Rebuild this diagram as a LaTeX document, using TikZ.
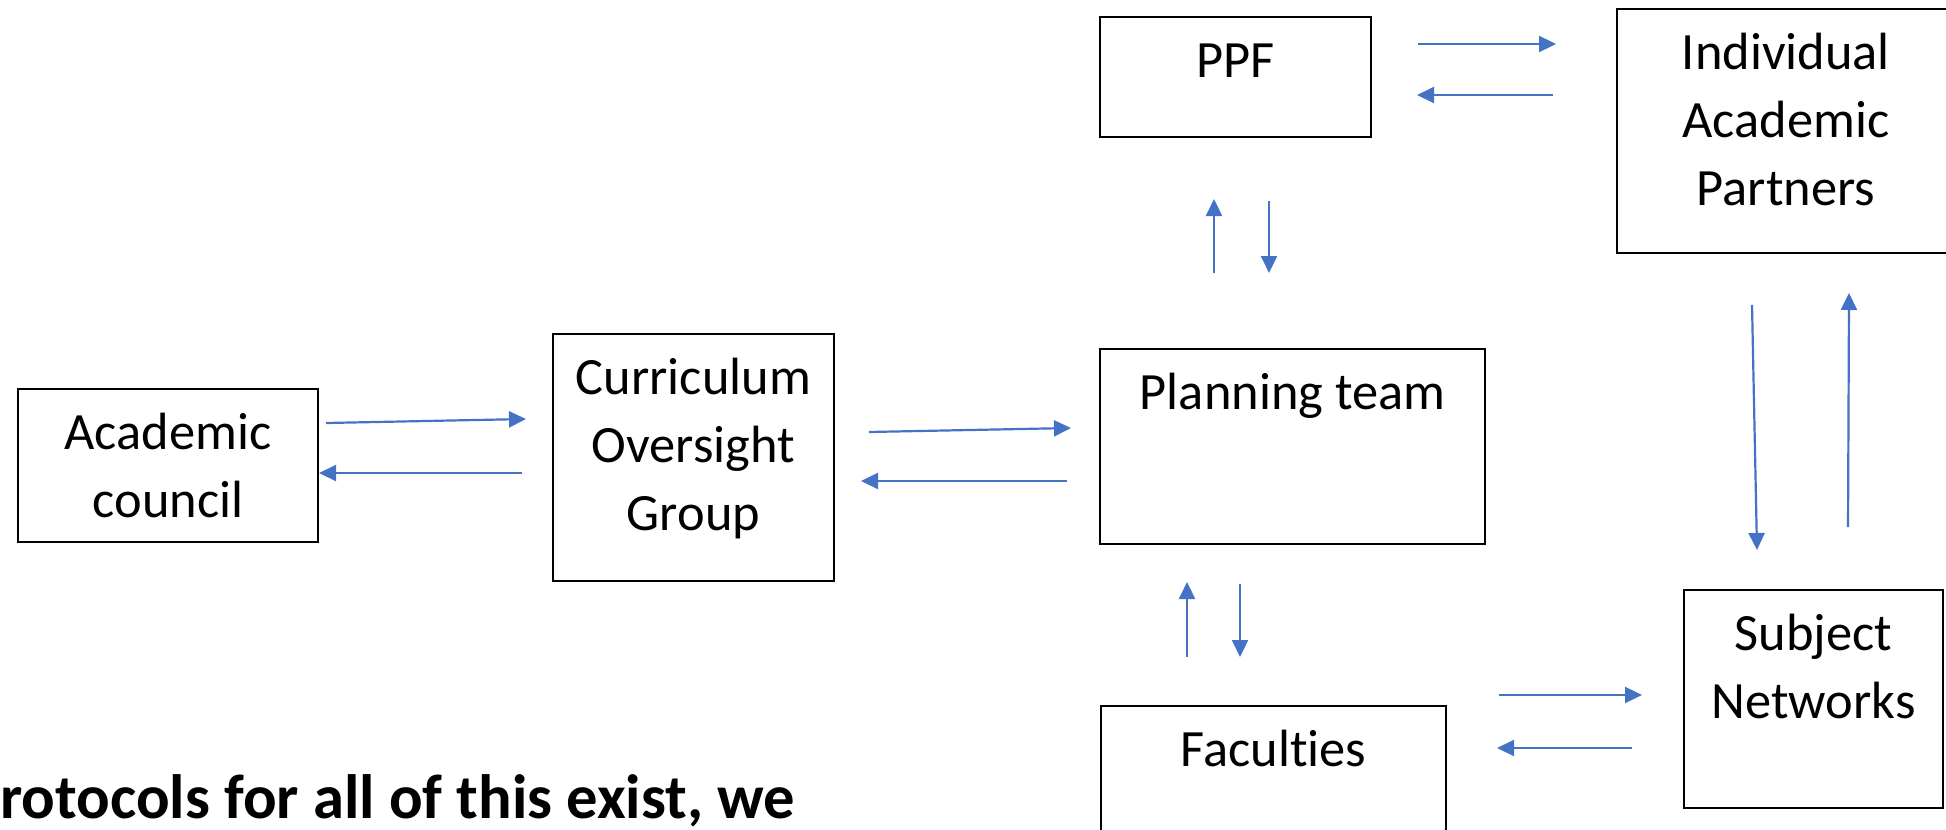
\documentclass[tikz,border=0pt]{standalone}
\usepackage{fontspec}
\setmainfont{Carlito}[Ligatures=NoCommon]
\usetikzlibrary{arrows.meta}
\definecolor{flowblue}{HTML}{4472C4}

\begin{document}
\begin{tikzpicture}[x=0.5pt,y=-0.5pt,
  box/.style={draw, line width=1pt, inner sep=0pt, anchor=north west, align=center,
    text height=30pt, font=\fontsize{26.2pt}{34pt}\selectfont},
  flow/.style={draw=flowblue, line width=1.1pt, -{Triangle[length=8.5pt,width=8pt]}}]
  \useasboundingbox (0,0) rectangle (1946,829);
  \clip (0,0) rectangle (1946,829);

  \node[box, minimum width=150pt, text height=64pt, text depth=12.5pt] (ac) at (17,388) {Academic\\council};
  \node[box, minimum width=140.5pt, text height=98pt, text depth=25.5pt] (cog) at (552,333) {Curriculum\\Oversight\\Group};
  \node[box, minimum width=192.5pt, text depth=67.5pt] (pt) at (1099,348) {Planning team};
  \node[box, minimum width=135.5pt, text depth=30pt] (ppf) at (1099,16) {PPF};
  \node[box, minimum width=169pt, text height=98pt, text depth=24pt] (iap) at (1616,8) {Individual\\Academic\\Partners};
  \node[box, minimum width=129.5pt, text height=64pt, text depth=45pt] (sn) at (1683,589) {Subject\\Networks};
  \node[box, minimum width=172.5pt, text depth=52.5pt] (fac) at (1100,705) {Faculties};

  \draw[flow] ([shift={(7,35)}]ac.north east) -- ([shift={(-26,86)}]cog.north west);
  \draw[flow] ([shift={(-30,140)}]cog.north west) -- ([shift={(0,85)}]ac.north east);
  \draw[flow] ([shift={(34,99)}]cog.north east) -- ([shift={(-28,80)}]pt.north west);
  \draw[flow] ([shift={(-32,133)}]pt.north west) -- ([shift={(26,148)}]cog.north east);
  \draw[flow] ([shift={(46,28)}]ppf.north east) -- ([shift={(-60,36)}]iap.north west);
  \draw[flow] ([shift={(-63,87)}]iap.north west) -- ([shift={(45,79)}]ppf.north east);
  \draw[flow] ([shift={(115,-75)}]pt.north west) -- ([shift={(115,61)}]ppf.south west);
  \draw[flow] ([shift={(170,63)}]ppf.south west) -- ([shift={(170,-75)}]pt.north west);
  \draw[flow] ([shift={(87,-48)}]fac.north west) -- ([shift={(88,37)}]pt.south west);
  \draw[flow] ([shift={(141,39)}]pt.south west) -- ([shift={(140,-48)}]fac.north west);
  \draw[flow] ([shift={(52,-10)}]fac.north east) -- ([shift={(-41,106)}]sn.north west);
  \draw[flow] ([shift={(-51,159)}]sn.north west) -- ([shift={(50,43)}]fac.north east);
  \draw[flow] ([shift={(136,51)}]iap.south west) -- ([shift={(74,-39)}]sn.north west);
  \draw[flow] ([shift={(165,-62)}]sn.north west) -- ([shift={(233,39)}]iap.south west);

  \node[anchor=base west, inner sep=0pt, font=\bfseries\fontsize{31.3pt}{38pt}\selectfont] (note) at (0,818) {rotocols for all of this exist, we};
\end{tikzpicture}
\end{document}
